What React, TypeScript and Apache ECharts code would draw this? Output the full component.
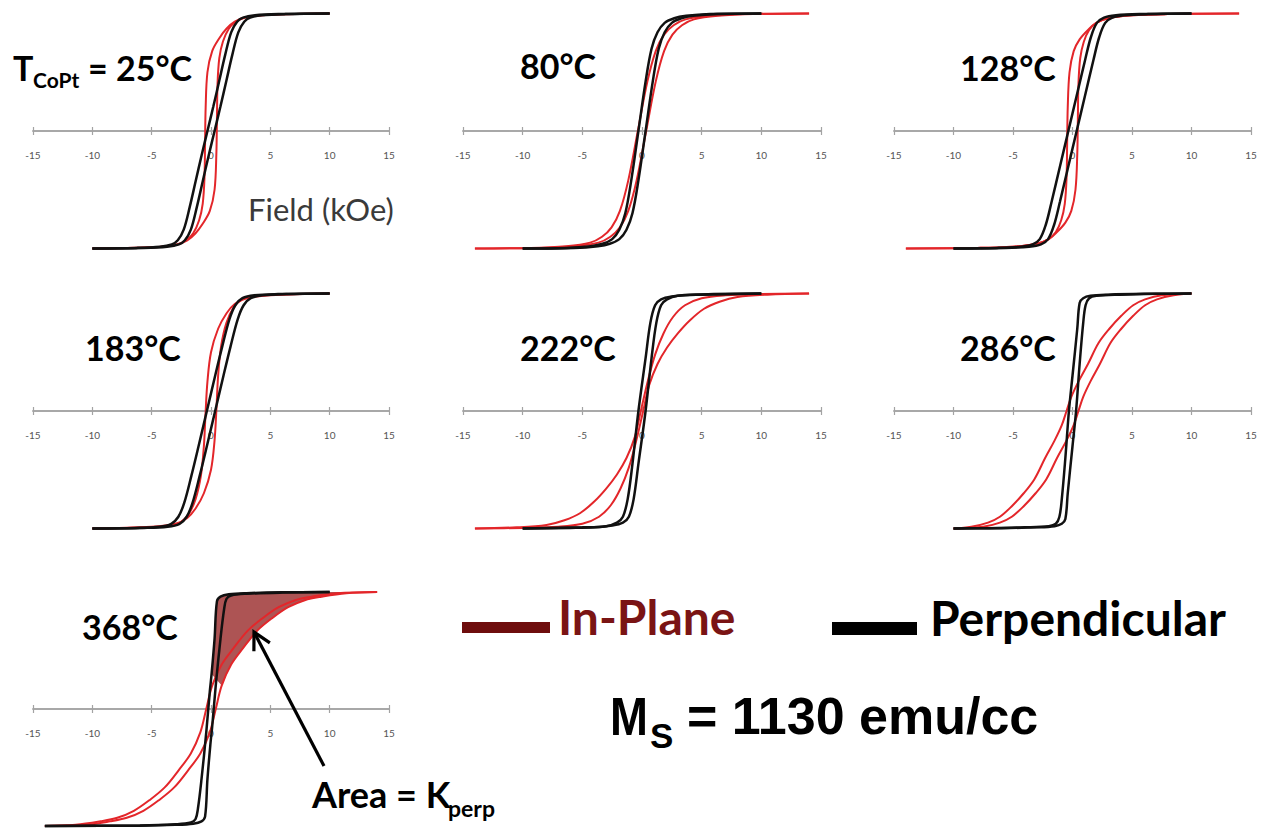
import React, { useEffect, useRef } from "react";
import * as echarts from "echarts";

type Pt = [number, number];

// Field axis (kOe) and the annealing temperatures of the seven loops
const fieldMin = -15;
const fieldMax = 15;
const fieldStep = 5;
const temperatures = ["25°C", "80°C", "128°C", "183°C", "222°C", "286°C", "368°C"];

// Normalised magnetisation M/Ms versus field H (kOe).
// "Up" = increasing-field branch, "Down" = decreasing-field branch.

// 25 °C
const inPlaneUp25: Pt[] = [[-10,-1],[-5,-0.99],[-3,-0.97],[-2,-0.93],[-1.3,-0.87],[-0.7,-0.79],[-0.1,-0.68],[0.3,-0.5],[0.45,-0.2],[0.5,0.1],[0.55,0.4],[0.7,0.62],[1.0,0.76],[1.5,0.87],[2.1,0.93],[3,0.97],[5,0.99],[10,1]];
const inPlaneDown25: Pt[] = [[10,1],[5,0.99],[3,0.97],[2,0.93],[1.3,0.87],[0.7,0.79],[0.1,0.68],[-0.3,0.5],[-0.45,0.2],[-0.5,-0.1],[-0.55,-0.4],[-0.7,-0.62],[-1.0,-0.76],[-1.5,-0.87],[-2.1,-0.93],[-3,-0.97],[-5,-0.99],[-10,-1]];
const perpUp25: Pt[] = [[-10,-1],[-5.7,-0.995],[-3.7,-0.985],[-2.7,-0.965],[-2.2,-0.93],[-1.7,-0.84],[-1.2,-0.65],[-0.7,-0.43],[-0.2,-0.21],[0.3,0],[0.8,0.21],[1.3,0.43],[1.8,0.65],[2.3,0.84],[2.8,0.93],[3.3,0.965],[4.3,0.985],[6.3,0.995],[10,1]];
const perpDown25: Pt[] = [[10,1],[5.7,0.995],[3.7,0.985],[2.7,0.965],[2.2,0.93],[1.7,0.84],[1.2,0.65],[0.7,0.43],[0.2,0.21],[-0.3,0],[-0.8,-0.21],[-1.3,-0.43],[-1.8,-0.65],[-2.3,-0.84],[-2.8,-0.93],[-3.3,-0.965],[-4.3,-0.985],[-6.3,-0.995],[-10,-1]];

// 80 °C
const inPlaneUp80: Pt[] = [[-14,-1],[-8.65,-0.995],[-5.65,-0.98],[-3.65,-0.95],[-2.65,-0.9],[-1.85,-0.82],[-1.15,-0.68],[-0.45,-0.42],[0.35,0],[1.15,0.42],[1.85,0.68],[2.55,0.82],[3.35,0.9],[4.35,0.95],[6.35,0.98],[9.35,0.995],[14,1]];
const inPlaneDown80: Pt[] = [[14,1],[8.65,0.995],[5.65,0.98],[3.65,0.95],[2.65,0.9],[1.85,0.82],[1.15,0.68],[0.45,0.42],[-0.35,0],[-1.15,-0.42],[-1.85,-0.68],[-2.55,-0.82],[-3.35,-0.9],[-4.35,-0.95],[-6.35,-0.98],[-9.35,-0.995],[-14,-1]];
const perpUp80: Pt[] = [[-10,-1],[-5.7,-0.995],[-3.7,-0.98],[-2.7,-0.96],[-1.9,-0.92],[-1.3,-0.84],[-0.8,-0.7],[-0.3,-0.42],[0.3,0],[0.9,0.42],[1.4,0.7],[1.9,0.84],[2.5,0.92],[3.3,0.96],[4.3,0.98],[6.3,0.995],[10,1]];
const perpDown80: Pt[] = [[10,1],[5.7,0.995],[3.7,0.98],[2.7,0.96],[1.9,0.92],[1.3,0.84],[0.8,0.7],[0.3,0.42],[-0.3,0],[-0.9,-0.42],[-1.4,-0.7],[-1.9,-0.84],[-2.5,-0.92],[-3.3,-0.96],[-4.3,-0.98],[-6.3,-0.995],[-10,-1]];

// 128 °C
const inPlaneUp128: Pt[] = [[-14,-1],[-8,-0.995],[-5,-0.985],[-3,-0.96],[-2,-0.92],[-1.3,-0.86],[-0.6,-0.78],[-0.1,-0.68],[0.25,-0.5],[0.4,-0.2],[0.45,0.1],[0.5,0.4],[0.65,0.62],[0.95,0.76],[1.4,0.86],[2,0.92],[3,0.96],[5,0.985],[8,0.995],[14,1]];
const inPlaneDown128: Pt[] = [[14,1],[8,0.995],[5,0.985],[3,0.96],[2,0.92],[1.3,0.86],[0.6,0.78],[0.1,0.68],[-0.25,0.5],[-0.4,0.2],[-0.45,-0.1],[-0.5,-0.4],[-0.65,-0.62],[-0.95,-0.76],[-1.4,-0.86],[-2,-0.92],[-3,-0.96],[-5,-0.985],[-8,-0.995],[-14,-1]];
const perpUp128: Pt[] = [[-10,-1],[-5.65,-0.995],[-3.65,-0.985],[-2.65,-0.965],[-2.05,-0.92],[-1.55,-0.8],[-1.05,-0.6],[-0.35,-0.3],[0.35,0],[1.05,0.3],[1.75,0.6],[2.25,0.8],[2.75,0.92],[3.35,0.965],[4.35,0.985],[6.35,0.995],[10,1]];
const perpDown128: Pt[] = [[10,1],[5.65,0.995],[3.65,0.985],[2.65,0.965],[2.05,0.92],[1.55,0.8],[1.05,0.6],[0.35,0.3],[-0.35,0],[-1.05,-0.3],[-1.75,-0.6],[-2.25,-0.8],[-2.75,-0.92],[-3.35,-0.965],[-4.35,-0.985],[-6.35,-0.995],[-10,-1]];

// 183 °C
const inPlaneUp183: Pt[] = [[-10,-1],[-5,-0.985],[-3,-0.96],[-2,-0.91],[-1.3,-0.83],[-0.6,-0.7],[0,-0.5],[0.3,-0.25],[0.45,0],[0.6,0.3],[0.85,0.55],[1.3,0.75],[1.9,0.88],[2.6,0.95],[3.5,0.975],[5,0.99],[10,1]];
const inPlaneDown183: Pt[] = [[10,1],[5,0.985],[3,0.96],[2,0.91],[1.3,0.83],[0.6,0.7],[0,0.5],[-0.3,0.25],[-0.45,0],[-0.6,-0.3],[-0.85,-0.55],[-1.3,-0.75],[-1.9,-0.88],[-2.6,-0.95],[-3.5,-0.975],[-5,-0.99],[-10,-1]];
const perpUp183: Pt[] = [[-10,-1],[-5.65,-0.995],[-3.65,-0.985],[-2.65,-0.96],[-2.05,-0.9],[-1.55,-0.78],[-0.95,-0.55],[-0.35,-0.3],[0.35,0],[1.05,0.3],[1.65,0.55],[2.25,0.78],[2.75,0.9],[3.35,0.96],[4.35,0.985],[6.35,0.995],[10,1]];
const perpDown183: Pt[] = [[10,1],[5.65,0.995],[3.65,0.985],[2.65,0.96],[2.05,0.9],[1.55,0.78],[0.95,0.55],[0.35,0.3],[-0.35,0],[-1.05,-0.3],[-1.65,-0.55],[-2.25,-0.78],[-2.75,-0.9],[-3.35,-0.96],[-4.35,-0.985],[-6.35,-0.995],[-10,-1]];

// 222 °C
const inPlaneUp222: Pt[] = [[-14,-1],[-10,-0.995],[-7,-0.985],[-5,-0.96],[-3.6,-0.9],[-2.6,-0.8],[-1.8,-0.66],[-1.1,-0.48],[-0.5,-0.26],[0.1,0],[0.6,0.22],[1.3,0.4],[2.1,0.54],[3,0.66],[4,0.77],[5.2,0.87],[6.5,0.93],[8,0.97],[10.5,0.99],[14,1]];
const inPlaneDown222: Pt[] = [[14,1],[10,0.995],[7,0.985],[5,0.96],[3.6,0.9],[2.6,0.8],[1.8,0.66],[1.1,0.48],[0.5,0.26],[-0.1,0],[-0.6,-0.22],[-1.3,-0.4],[-2.1,-0.54],[-3,-0.66],[-4,-0.77],[-5.2,-0.87],[-6.5,-0.93],[-8,-0.97],[-10.5,-0.99],[-14,-1]];
const perpUp222: Pt[] = [[-10,-1],[-6,-0.995],[-4,-0.99],[-2.5,-0.975],[-1.6,-0.95],[-1.1,-0.9],[-0.7,-0.75],[-0.3,-0.45],[0.3,0],[0.8,0.45],[1.2,0.75],[1.6,0.9],[2.1,0.95],[3,0.98],[5,0.99],[10,1]];
const perpDown222: Pt[] = [[10,1],[6,0.995],[4,0.99],[2.5,0.975],[1.6,0.95],[1.1,0.9],[0.7,0.75],[0.3,0.45],[-0.3,0],[-0.8,-0.45],[-1.2,-0.75],[-1.6,-0.9],[-2.1,-0.95],[-3,-0.98],[-5,-0.99],[-10,-1]];

// 286 °C
const inPlaneUp286: Pt[] = [[-10,-1],[-7.5,-0.985],[-6.1,-0.95],[-5.1,-0.9],[-4.1,-0.81],[-3.1,-0.7],[-2.2,-0.58],[-1.3,-0.4],[-0.5,-0.25],[0.1,-0.12],[0.5,0],[0.9,0.12],[1.5,0.25],[2.3,0.4],[3.2,0.58],[4.1,0.7],[5.1,0.81],[6.1,0.9],[7.1,0.95],[8.5,0.985],[10,1]];
const inPlaneDown286: Pt[] = [[10,1],[7.5,0.985],[6.1,0.95],[5.1,0.9],[4.1,0.81],[3.1,0.7],[2.2,0.58],[1.3,0.4],[0.5,0.25],[-0.1,0.12],[-0.5,0],[-0.9,-0.12],[-1.5,-0.25],[-2.3,-0.4],[-3.2,-0.58],[-4.1,-0.7],[-5.1,-0.81],[-6.1,-0.9],[-7.1,-0.95],[-8.5,-0.985],[-10,-1]];
const perpUp286: Pt[] = [[-10,-1],[-6,-0.997],[-3,-0.99],[-1.5,-0.98],[-0.9,-0.96],[-0.6,-0.92],[-0.4,-0.7],[0,-0.3],[0.3,0],[0.6,0.4],[0.9,0.75],[1.1,0.9],[1.4,0.96],[2,0.98],[4,0.99],[7,0.997],[10,1]];
const perpDown286: Pt[] = [[10,1],[6,0.997],[3,0.99],[1.5,0.98],[0.9,0.96],[0.6,0.92],[0.4,0.7],[0,0.3],[-0.3,0],[-0.6,-0.4],[-0.9,-0.75],[-1.1,-0.9],[-1.4,-0.96],[-2,-0.98],[-4,-0.99],[-7,-0.997],[-10,-1]];

// 368 °C
const inPlaneUp368: Pt[] = [[-14,-1],[-10.6,-0.99],[-8.5,-0.96],[-7.1,-0.93],[-5.7,-0.87],[-4.4,-0.78],[-3.1,-0.67],[-1.9,-0.52],[-0.9,-0.38],[-0.1,-0.2],[0.4,0],[0.9,0.2],[1.7,0.38],[2.7,0.52],[3.9,0.67],[5.2,0.78],[6.5,0.87],[7.9,0.93],[9.3,0.96],[11.4,0.99],[14,1]];
const inPlaneDown368: Pt[] = [[14,1],[10.6,0.99],[8.5,0.96],[7.1,0.93],[5.7,0.87],[4.4,0.78],[3.1,0.67],[1.9,0.52],[0.9,0.38],[0.1,0.2],[-0.4,0],[-0.9,-0.2],[-1.7,-0.38],[-2.7,-0.52],[-3.9,-0.67],[-5.2,-0.78],[-6.5,-0.87],[-7.9,-0.93],[-9.3,-0.96],[-11.4,-0.99],[-14,-1]];
const perpUp368: Pt[] = [[-14,-1],[-6,-0.997],[-3,-0.99],[-1.5,-0.98],[-0.8,-0.96],[-0.5,-0.92],[-0.3,-0.6],[-0.05,-0.3],[0.1,-0.15],[0.4,0.2],[0.8,0.6],[1.1,0.85],[1.3,0.94],[1.7,0.97],[3,0.985],[6,0.995],[10,1]];
const perpDown368: Pt[] = [[10,1],[6,0.997],[3,0.99],[1.5,0.98],[0.8,0.96],[0.5,0.92],[0.3,0.6],[0.05,0.3],[-0.1,0.15],[-0.4,-0.2],[-0.8,-0.6],[-1.1,-0.85],[-1.3,-0.94],[-1.7,-0.97],[-3,-0.985],[-6,-0.995],[-14,-1]];

const inPlaneUp = [inPlaneUp25, inPlaneUp80, inPlaneUp128, inPlaneUp183, inPlaneUp222, inPlaneUp286, inPlaneUp368];
const inPlaneDown = [inPlaneDown25, inPlaneDown80, inPlaneDown128, inPlaneDown183, inPlaneDown222, inPlaneDown286, inPlaneDown368];
const perpUp = [perpUp25, perpUp80, perpUp128, perpUp183, perpUp222, perpUp286, perpUp368];
const perpDown = [perpDown25, perpDown80, perpDown128, perpDown183, perpDown222, perpDown286, perpDown368];

// Plot box of each small chart on the page
const panels = [
  { left: 33, top: 13.5, width: 356, height: 235 },
  { left: 463, top: 13.5, width: 358, height: 235 },
  { left: 894, top: 13.5, width: 357, height: 235 },
  { left: 33, top: 293.5, width: 356, height: 235 },
  { left: 463, top: 293.5, width: 358, height: 235 },
  { left: 894, top: 293.5, width: 357, height: 235 },
  { left: 33, top: 592, width: 356, height: 234 },
];
// left x and cap-centre y of each temperature label
const tempLabelPos: Pt[] = [[88, 67.5], [520, 65.5], [960, 67.5], [85, 347.5], [520, 347.5], [960, 347.5], [82, 626.5]];

const RED = "#e3262a";
const BLACK = "#111111";
const AXIS = "#a3a3a3";
const LATO = "Lato, 'Noto Sans', sans-serif";
const ARIAL = "'Liberation Sans', Arial, sans-serif";

function txt(text: string, x: number, y: number, size: number, opts: any = {}) {
  return {
    type: "text",
    x,
    y,
    scaleX: opts.scaleX || 1,
    silent: true,
    z: 10,
    style: {
      text,
      fill: opts.fill || "#000",
      font: `${opts.weight || "bold"} ${size}px ${opts.family || LATO}`,
      align: "left",
      verticalAlign: "middle",
    },
  };
}

export default function App() {
  const ref = useRef<HTMLDivElement>(null);

  useEffect(() => {
    if (!ref.current) return;
    const chart = echarts.init(ref.current, undefined, { renderer: "svg" });

    const grid: any[] = [];
    const xAxis: any[] = [];
    const yAxis: any[] = [];
    const series: any[] = [];

    panels.forEach((p, i) => {
      grid.push({ left: p.left, top: p.top, width: p.width, height: p.height });
      // the field axis runs through M = 0, i.e. the middle of the plot box
      const base = {
        type: "value",
        gridIndex: i,
        min: fieldMin,
        max: fieldMax,
        interval: fieldStep,
        offset: -p.height / 2,
        splitLine: { show: false },
        axisLine: { onZero: false, lineStyle: { color: AXIS, width: 1.5 } },
      };
      // lower half of the crossing tick marks, with labels
      xAxis.push({
        ...base,
        position: "bottom",
        axisTick: { show: true, length: 4, lineStyle: { color: AXIS, width: 1.2 } },
        axisLabel: { fontSize: 10, color: "#555", margin: 19, fontFamily: LATO },
      });
      // upper half of the tick marks
      xAxis.push({
        ...base,
        position: "top",
        axisTick: { show: true, length: 4, lineStyle: { color: AXIS, width: 1.2 } },
        axisLabel: { show: false },
      });
      yAxis.push({ type: "value", gridIndex: i, min: -1, max: 1, show: false });

      const line = (data: Pt[], color: string, width: number, z: number) => ({
        type: "line",
        xAxisIndex: 2 * i,
        yAxisIndex: i,
        data,
        showSymbol: false,
        smooth: 0.35,
        clip: false,
        silent: true,
        z,
        lineStyle: { color, width },
      });
      series.push(line(inPlaneUp[i], RED, 2, 3));
      series.push(line(inPlaneDown[i], RED, 2, 3));
      series.push(line(perpUp[i], BLACK, 2.5, 4));
      series.push(line(perpDown[i], BLACK, 2.5, 4));
    });

    // Shaded anisotropy area between the perpendicular and in-plane loops (368 °C)
    const areaEdge: Pt[] = [
      ...perpDown368.filter((q) => q[1] >= 0.3),
      ...inPlaneUp368.filter((q) => q[1] >= 0.2),
    ];
    series.push({
      type: "custom",
      xAxisIndex: 12,
      yAxisIndex: 6,
      data: [[0, 0]],
      silent: true,
      z: 2,
      renderItem: (_params: any, api: any) => ({
        type: "polygon",
        shape: { points: areaEdge.map((q) => api.coord(q)) },
        style: { fill: "#ad5454", stroke: "none" },
      }),
    });

    // Arrow pointing at the shaded area
    const tail: Pt = [324, 766];
    const head: Pt = [254, 632];
    const dx = head[0] - tail[0];
    const dy = head[1] - tail[1];
    const len = Math.hypot(dx, dy);
    const ux = dx / len;
    const uy = dy / len;
    const bx = head[0] - 17 * ux;
    const by = head[1] - 17 * uy;
    const wing1: Pt = [bx - 9 * uy, by + 9 * ux];
    const wing2: Pt = [bx + 9 * uy, by - 9 * ux];

    const graphic: any[] = [
      txt("T", 13, 67.5, 34),
      txt("CoPt", 33, 79, 21),
      ...temperatures.map((t, i) =>
        txt(i === 0 ? "= " + t : t, tempLabelPos[i][0], tempLabelPos[i][1], 34)
      ),
      txt("Field (kOe)", 248, 208.5, 31, { weight: "normal", fill: "#3a3a3a" }),
      { type: "rect", shape: { x: 462, y: 622, width: 88, height: 11 }, style: { fill: "#6e0d0d" }, silent: true },
      txt("In-Plane", 558, 616.5, 48, { fill: "#7a1414" }),
      { type: "rect", shape: { x: 832, y: 622, width: 85, height: 13 }, style: { fill: "#000" }, silent: true },
      txt("Perpendicular", 930, 617.5, 48),
      txt("M", 610, 716, 53, { family: ARIAL, scaleX: 0.86 }),
      txt("S", 650, 735.5, 35, { family: ARIAL }),
      txt("= 1130 emu/cc", 687, 716, 52, { family: ARIAL }),
      txt("Area = K", 312, 793.5, 36),
      txt("perp", 448, 808, 23),
      {
        type: "line",
        shape: { x1: tail[0], y1: tail[1], x2: head[0] - 2 * ux, y2: head[1] - 2 * uy },
        style: { stroke: "#000", lineWidth: 3.2 },
        silent: true,
        z: 10,
      },
      {
        type: "polyline",
        shape: { points: [wing1, head, wing2] },
        style: { stroke: "#000", lineWidth: 3.2, fill: "none", lineJoin: "miter" },
        silent: true,
        z: 10,
      },
    ];

    chart.setOption({
      animation: false,
      backgroundColor: "#ffffff",
      textStyle: { fontFamily: LATO },
      grid,
      xAxis,
      yAxis,
      series,
      graphic,
    });

    return () => chart.dispose();
  }, []);

  return (
    <div
      ref={ref}
      style={{ position: "fixed", left: 0, top: 0, width: 1266, height: 830, background: "#fff" }}
    />
  );
}
